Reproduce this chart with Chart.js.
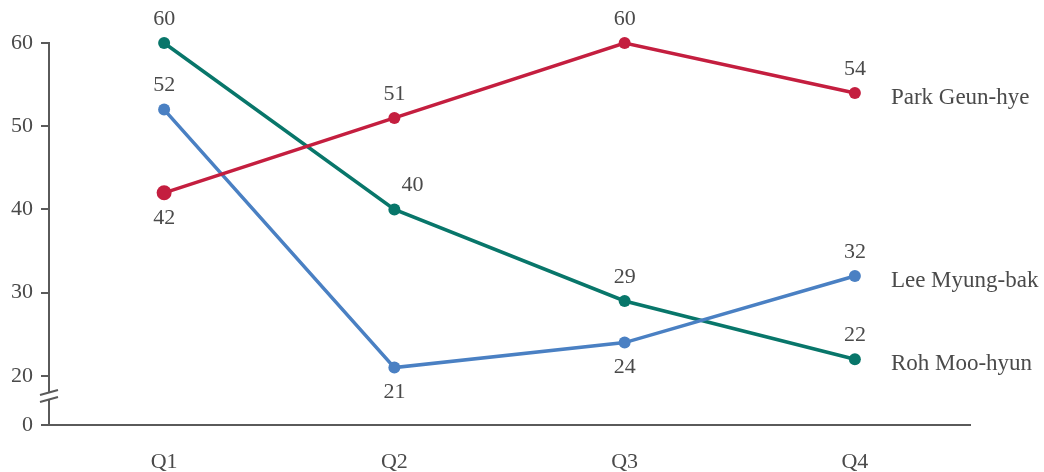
<!DOCTYPE html>
<html>
<head>
<meta charset="utf-8">
<script src="https://cdn.jsdelivr.net/npm/chart.js@4/dist/chart.umd.min.js"></script>
<style>
  html, body { margin: 0; padding: 0; background: #fff; }
  #wrap { width: 1044px; height: 472px; }
</style>
</head>
<body>
<div id="wrap"><canvas id="approvalChart" width="1044" height="472"></canvas></div>
<script>
const quarters = ["Q1", "Q2", "Q3", "Q4"];
const parkGeunHye = [42, 51, 60, 54];
const leeMyungBak = [52, 21, 24, 32];
const rohMooHyun = [60, 40, 29, 22];
const yTicks = [20, 30, 40, 50, 60];

// where each value label sits relative to its point
const parkLabelSide = ["below", "above", "above", "above"];
const leeLabelSide = ["above", "below", "below", "above"];
const rohLabelSide = ["above", "aboveRight", "above", "above"];

const AXIS_FLOOR = 14.1;   // bottom of the broken axis, shown as 0
const SERIF = "'Liberation Serif', 'DejaVu Serif', serif";
const TEXT = "#4a4a4a";
const AXIS = "#5a5a5a";

const valueLabels = {
    id: "valueLabels",
    afterDatasetsDraw(chart) {
        const ctx = chart.ctx;
        ctx.save();
        ctx.font = "22px " + SERIF;
        ctx.fillStyle = TEXT;
        ctx.textAlign = "center";
        ctx.textBaseline = "middle";
        chart.data.datasets.forEach((ds, i) => {
            const meta = chart.getDatasetMeta(i);
            meta.data.forEach((pt, j) => {
                const side = ds.labelSide[j];
                let x = pt.x, y = pt.y;
                if (side === "below") y += 25;
                else if (side === "aboveRight") { x += 18; y -= 24; }
                else y -= 24;
                ctx.fillText(String(ds.data[j]), x, y);
            });
            // series name after the last point
            const last = meta.data[meta.data.length - 1];
            ctx.textAlign = "left";
            ctx.font = "23px " + SERIF;
            ctx.fillText(ds.label, last.x + 36, last.y + 5);
            ctx.font = "22px " + SERIF;
            ctx.textAlign = "center";
        });
        ctx.restore();
    }
};

const axisBreak = {
    id: "axisBreak",
    afterDraw(chart) {
        const ctx = chart.ctx;
        const ys = chart.scales.y;
        const x = ys.right;
        const yMid = (ys.getPixelForValue(20) + ys.getPixelForValue(AXIS_FLOOR)) / 2 - 4.5;
        ctx.save();
        ctx.fillStyle = "#fff";
        ctx.fillRect(x - 3, yMid - 4, 6, 8);
        ctx.strokeStyle = AXIS;
        ctx.lineWidth = 2;
        ctx.beginPath();
        ctx.moveTo(x - 9, yMid - 1);
        ctx.lineTo(x + 9, yMid - 6);
        ctx.moveTo(x - 9, yMid + 6);
        ctx.lineTo(x + 9, yMid + 1);
        ctx.stroke();
        ctx.restore();
    }
};

function series(label, data, color, sides, radii) {
    return {
        label: label,
        data: data,
        labelSide: sides,
        borderColor: color,
        backgroundColor: color,
        pointBackgroundColor: color,
        pointBorderColor: color,
        borderWidth: 3.5,
        pointRadius: radii || 6,
        pointBorderWidth: 0,
        clip: false,
        tension: 0
    };
}

new Chart(document.getElementById("approvalChart"), {
    type: "line",
    data: {
        labels: quarters,
        datasets: [
            series("Park Geun-hye", parkGeunHye, "#c41e3f", parkLabelSide, [7.5, 6, 6, 6]),
            series("Lee Myung-bak", leeMyungBak, "#4a80c3", leeLabelSide),
            series("Roh Moo-hyun", rohMooHyun, "#08766a", rohLabelSide)
        ]
    },
    options: {
        responsive: false,
        animation: false,
        layout: { padding: { top: 43, right: 74, left: 0, bottom: 0 } },
        plugins: { legend: { display: false }, tooltip: { enabled: false } },
        scales: {
            x: {
                offset: true,
                grid: { display: false },
                border: { display: true, color: AXIS, width: 2 },
                ticks: { color: TEXT, padding: 16, font: { family: SERIF, size: 22 } },
                afterFit(scale) { scale.height = 47; }
            },
            y: {
                min: AXIS_FLOOR,
                max: 60,
                grid: { drawOnChartArea: false, drawTicks: true, tickLength: 8, color: AXIS, lineWidth: 2 },
                border: { display: true, color: AXIS, width: 2 },
                afterBuildTicks(scale) {
                    scale.ticks = [AXIS_FLOOR].concat(yTicks).map(v => ({ value: v }));
                },
                ticks: {
                    color: TEXT,
                    padding: 8,
                    font: { family: SERIF, size: 22 },
                    callback: v => (v < 20 ? "0" : String(v))
                },
                afterFit(scale) { scale.width = 49; }
            }
        }
    },
    plugins: [valueLabels, axisBreak]
});
</script>
</body>
</html>
